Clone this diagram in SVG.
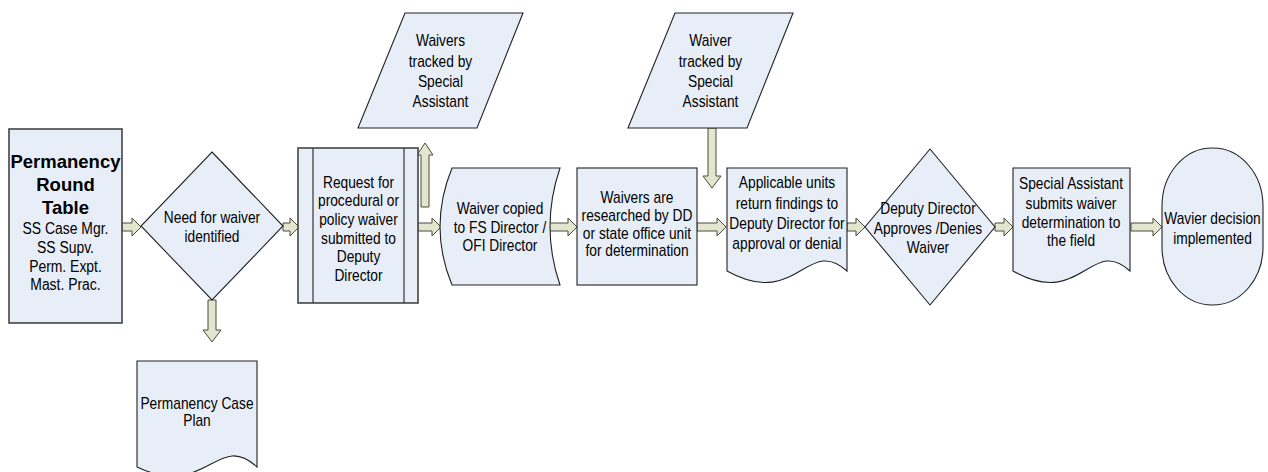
<svg xmlns="http://www.w3.org/2000/svg" width="1268" height="472" viewBox="0 0 1268 472">
<style>
.s{fill:#E8EEF7;stroke:#222;stroke-width:1.1}
.b{fill:#E8EEF7;stroke:#444;stroke-width:1.6}
.a{fill:#E3E6CE;stroke:#4a4a3c;stroke-width:1}
.t{font-family:"Liberation Sans",Arial,sans-serif;font-size:16px;fill:#000;text-anchor:middle}
.h{font-family:"Liberation Sans",Arial,sans-serif;font-size:18.5px;font-weight:bold;fill:#000;text-anchor:middle}
</style>
<rect width="1268" height="472" fill="#fff"/>
<g id="connectors">
<polygon class="a" points="122,223 132,223 132,218 141,227 132,236 132,231 122,231"/>
<polygon class="a" points="283,223 290,223 290,218 299,227 290,236 290,231 283,231"/>
<polygon class="a" points="418,223 432,223 432,218 441,227 432,236 432,231 418,231"/>
<polygon class="a" points="549,223 568,223 568,218 577,227 568,236 568,231 549,231"/>
<polygon class="a" points="697,223 717,223 717,218 726,227 717,236 717,231 697,231"/>
<polygon class="a" points="847,223 856,223 856,218 865,227 856,236 856,231 847,231"/>
<polygon class="a" points="995,223 1004,223 1004,218 1013,227 1004,236 1004,231 995,231"/>
<polygon class="a" points="1131,223 1153,223 1153,218 1162,227 1153,236 1153,231 1131,231"/>
<polygon class="a" points="421,207 421,155 417,155 425,143 433,155 429,155 429,207"/>
<polygon class="a" points="208,300 216,300 216,330 221,330 212,342 203,330 208,330"/>
<polygon class="a" points="708,128 716,128 716,176 721,176 712,188 703,176 708,176"/>
</g>
<g id="n1">
<rect class="b" x="9" y="129" width="113" height="194"/>
<text class="h" x="65.5" y="168">Permanency</text>
<text class="h" x="65.5" y="191">Round</text>
<text class="h" x="65.5" y="214">Table</text>
<g transform="matrix(0.87 0 0 1 8.5 0)">
<text class="t" x="65.5" y="234">SS Case Mgr.</text>
<text class="t" x="65.5" y="253">SS Supv.</text>
<text class="t" x="65.5" y="272">Perm. Expt.</text>
<text class="t" x="65.5" y="290">Mast. Prac.</text>
</g>
</g>
<g id="n2">
<polygon class="s" points="212,152 283,226 212,300 141,226"/>
<g transform="matrix(0.86 0 0 1 29.68 0)">
<text class="t" x="212" y="223">Need for waiver</text>
<text class="t" x="212" y="242">identified</text>
</g>
</g>
<g id="n3">
<path class="s" d="M137,361 H257 V467 C217,430 207,500 137,467 Z"/>
<g transform="matrix(0.86 0 0 1 27.58 0)">
<text class="t" x="197" y="409">Permanency Case</text>
<text class="t" x="197" y="426">Plan</text>
</g>
</g>
<g id="n4">
<rect class="b" x="298" y="148" width="120" height="155"/>
<line x1="313" y1="148" x2="313" y2="303" stroke="#333" stroke-width="1.2"/>
<line x1="404" y1="148" x2="404" y2="303" stroke="#333" stroke-width="1.2"/>
<g transform="matrix(0.86 0 0 1 50.19 0)">
<text class="t" x="358.5" y="188">Request for</text>
<text class="t" x="358.5" y="206">procedural or</text>
<text class="t" x="358.5" y="225">policy waiver</text>
<text class="t" x="358.5" y="244">submitted to</text>
<text class="t" x="358.5" y="262">Deputy</text>
<text class="t" x="358.5" y="281">Director</text>
</g>
</g>
<g id="n5">
<polygon class="s" points="405,13 523,13 477,128 358,128"/>
<g transform="matrix(0.86 0 0 1 61.67 0)">
<text class="t" x="440.5" y="46">Waivers</text>
<text class="t" x="440.5" y="67">tracked by</text>
<text class="t" x="440.5" y="87">Special</text>
<text class="t" x="440.5" y="107">Assistant</text>
</g>
</g>
<g id="n6">
<path class="s" d="M452,168 L560,168 Q540,227 560,285 L452,285 Q428,227 452,168 Z"/>
<g transform="matrix(0.86 0 0 1 70 0)">
<text class="t" x="500" y="214">Waiver copied</text>
<text class="t" x="500" y="233">to FS Director /</text>
<text class="t" x="500" y="251">OFI Director</text>
</g>
</g>
<g id="n7">
<rect class="s" x="577" y="168" width="120" height="117"/>
<g transform="matrix(0.86 0 0 1 89.18 0)">
<text class="t" x="637" y="203">Waivers are</text>
<text class="t" x="637" y="221">researched by DD</text>
<text class="t" x="637" y="239">or state office unit</text>
<text class="t" x="637" y="256">for determination</text>
</g>
</g>
<g id="n8">
<polygon class="s" points="675,13 793,13 747,128 628,128"/>
<g transform="matrix(0.86 0 0 1 99.47 0)">
<text class="t" x="710.5" y="46">Waiver</text>
<text class="t" x="710.5" y="67">tracked by</text>
<text class="t" x="710.5" y="87">Special</text>
<text class="t" x="710.5" y="107">Assistant</text>
</g>
</g>
<g id="n9">
<path class="s" d="M727,168 H847 V271 C807,235 797,310 727,271 Z"/>
<g transform="matrix(0.86 0 0 1 110.18 0)">
<text class="t" x="787" y="188">Applicable units</text>
<text class="t" x="787" y="209">return findings to</text>
<text class="t" x="787" y="229">Deputy Director for</text>
<text class="t" x="787" y="249">approval or denial</text>
</g>
</g>
<g id="n10">
<polygon class="s" points="930,149 995,227 930,305 865,227"/>
<g transform="matrix(0.86 0 0 1 129.92 0)">
<text class="t" x="928" y="214">Deputy Director</text>
<text class="t" x="928" y="234">Approves /Denies</text>
<text class="t" x="928" y="253">Waiver</text>
</g>
</g>
<g id="n11">
<path class="s" d="M1013,168 H1130 V271 C1091,235 1081,310 1013,271 Z"/>
<g transform="matrix(0.86 0 0 1 149.94 0)">
<text class="t" x="1071" y="189">Special Assistant</text>
<text class="t" x="1071" y="209">submits waiver</text>
<text class="t" x="1071" y="228">determination to</text>
<text class="t" x="1071" y="246">the field</text>
</g>
</g>
<g id="n12">
<rect class="s" x="1162" y="148" width="101" height="157" rx="50" ry="58"/>
<g transform="matrix(0.86 0 0 1 169.75 0)">
<text class="t" x="1212.5" y="224">Wavier decision</text>
<text class="t" x="1212.5" y="244">implemented</text>
</g>
</g>
</svg>
